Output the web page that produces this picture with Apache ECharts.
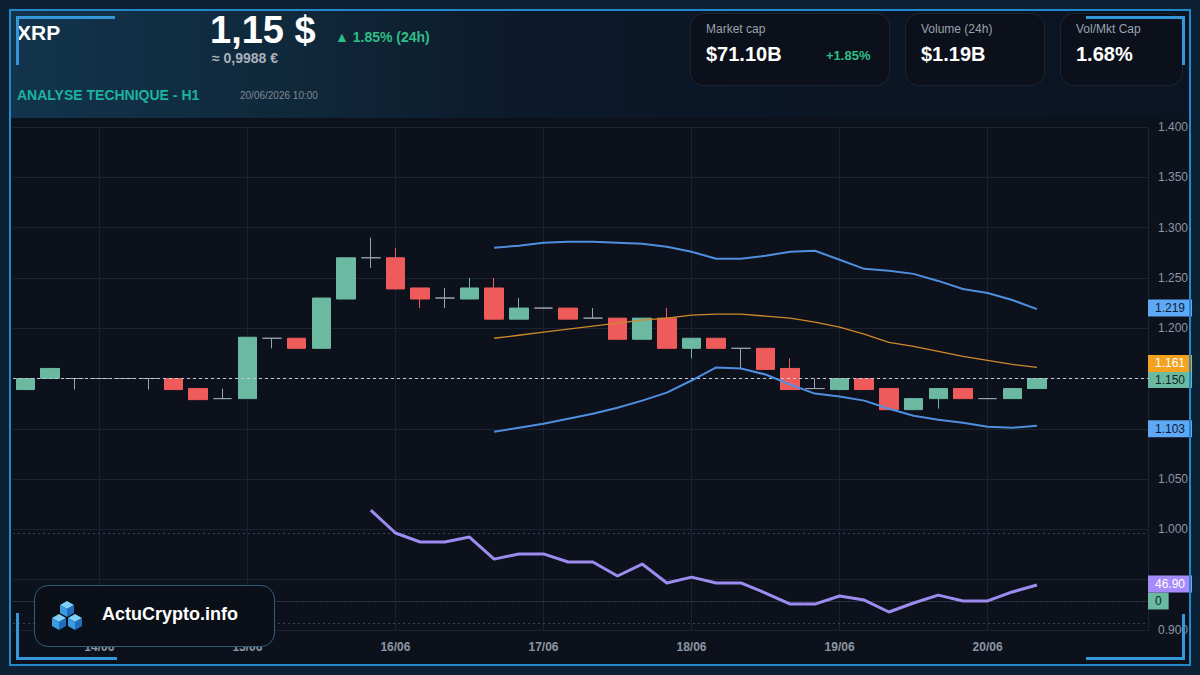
<!DOCTYPE html>
<html>
<head>
<meta charset="utf-8">
<title>XRP - Analyse technique</title>
<script src="https://cdn.jsdelivr.net/npm/echarts@6/dist/echarts.min.js"></script>
<style>
  body { margin: 0; background: #0c2134; }
  #wrap {
    position: relative; width: 1200px; height: 675px; overflow: hidden;
    background: #0c2134; font-family: "Liberation Sans", Arial, sans-serif;
  }
  #inner { position: absolute; left: 11px; top: 11px; width: 1178px; height: 653px; background: #0c111c; }
  #head {
    position: absolute; left: 11px; top: 11px; width: 1178px; height: 107px;
    background: linear-gradient(90deg, #12344c 0%, #0f2739 26%, #0c1a2b 42%, #0b1524 70%, #0b1423 100%);
  }
  #chart { position: absolute; left: 0; top: 0; width: 1200px; height: 675px; }
  #frame { position: absolute; left: 9px; top: 9px; width: 1182px; height: 657px; box-sizing: border-box; border: 2px solid #2387cb; pointer-events: none; }
  .corner { position: absolute; border-color: #3596da; border-style: solid; border-width: 0; pointer-events: none; }
  .txt { position: absolute; white-space: nowrap; }
  .card {
    position: absolute; top: 13px; height: 73px; box-sizing: border-box;
    border: 1px solid rgba(255,255,255,0.08); border-radius: 14px; background: #0b101b;
  }
  .card .lab { position: absolute; left: 15px; top: 8px; font-size: 12px; color: #9aa3ae; }
  .card .val { position: absolute; left: 15px; top: 29px; font-size: 20px; font-weight: bold; color: #fff; }
  #logo {
    position: absolute; left: 34px; top: 585px; width: 241px; height: 62px; box-sizing: border-box;
    border: 1.5px solid #2e5d76; border-radius: 14px; background: #0a0f18;
  }
</style>
</head>
<body>
<div id="wrap">
  <div id="inner"></div>
  <div id="head"></div>
  <div id="chart"></div>

  <div class="txt" style="left:17px;top:21px;font-size:21px;font-weight:bold;color:#fff;">XRP</div>
  <div class="txt" style="left:210px;top:9px;font-size:38px;font-weight:bold;color:#fff;">1,15 $</div>
  <div class="txt" style="left:212px;top:50px;font-size:14px;font-weight:bold;color:#a9b1bb;">≈ 0,9988 €</div>
  <div class="txt" style="left:335px;top:29px;font-size:14px;font-weight:bold;color:#2fbf86;">▲ 1.85% (24h)</div>
  <div class="txt" style="left:17px;top:87px;font-size:14px;font-weight:bold;color:#1cb3a0;">ANALYSE TECHNIQUE - H1</div>
  <div class="txt" style="left:240px;top:90px;font-size:10px;color:#7f8894;">20/06/2026 10:00</div>

  <div class="card" style="left:690px;width:200px;">
    <div class="lab">Market cap</div>
    <div class="val">$71.10B</div>
    <div class="txt" style="left:135px;top:34px;font-size:13px;font-weight:bold;color:#2fbf86;">+1.85%</div>
  </div>
  <div class="card" style="left:905px;width:140px;">
    <div class="lab">Volume (24h)</div>
    <div class="val">$1.19B</div>
  </div>
  <div class="card" style="left:1060px;width:123px;">
    <div class="lab">Vol/Mkt Cap</div>
    <div class="val">1.68%</div>
  </div>

  <div id="logo">
    <svg style="position:absolute;left:14px;top:12px;" width="40" height="36" viewBox="0 0 40 36">
      <defs>
        <g id="cube">
          <polygon points="0,-8 7,-4 0,0 -7,-4" fill="#7fd0fa"/>
          <polygon points="-7,-4 0,0 0,8 -7,4" fill="#3c9be0"/>
          <polygon points="0,0 7,-4 7,4 0,8" fill="#1f6fc0"/>
        </g>
      </defs>
      <use href="#cube" x="18" y="11"/>
      <use href="#cube" x="10" y="24"/>
      <use href="#cube" x="26" y="24"/>
    </svg>
    <div class="txt" style="left:67px;top:18px;font-size:18px;font-weight:bold;color:#fff;">ActuCrypto.info</div>
  </div>

  <div id="frame"></div>
  <div class="corner" style="left:16px;top:16px;width:96px;height:46px;border-top-width:3px;border-left-width:3px;"></div>
  <div class="corner" style="left:1086px;top:16px;width:96px;height:46px;border-top-width:3px;border-right-width:3px;"></div>
  <div class="corner" style="left:16px;top:613px;width:98px;height:44px;border-bottom-width:3px;border-left-width:3px;"></div>
  <div class="corner" style="left:1086px;top:614px;width:96px;height:43px;border-bottom-width:3px;border-right-width:3px;"></div>
</div>

<script>
// 4h candles, 13/06 12:00 -> 20/06 08:00, plus 4 empty slots on the right
const categories = [
  "13/06 12:00", "13/06 16:00", "13/06 20:00",
  "14/06 00:00", "14/06 04:00", "14/06 08:00", "14/06 12:00", "14/06 16:00", "14/06 20:00",
  "15/06 00:00", "15/06 04:00", "15/06 08:00", "15/06 12:00", "15/06 16:00", "15/06 20:00",
  "16/06 00:00", "16/06 04:00", "16/06 08:00", "16/06 12:00", "16/06 16:00", "16/06 20:00",
  "17/06 00:00", "17/06 04:00", "17/06 08:00", "17/06 12:00", "17/06 16:00", "17/06 20:00",
  "18/06 00:00", "18/06 04:00", "18/06 08:00", "18/06 12:00", "18/06 16:00", "18/06 20:00",
  "19/06 00:00", "19/06 04:00", "19/06 08:00", "19/06 12:00", "19/06 16:00", "19/06 20:00",
  "20/06 00:00", "20/06 04:00", "20/06 08:00", "20/06 12:00", "20/06 16:00", "20/06 20:00",
  "21/06 00:00"
];
const dayTicks = ["14/06", "15/06", "16/06", "17/06", "18/06", "19/06", "20/06"];
// price ticks hidden behind the value badges on the right
const hiddenTicks = ["1.150", "1.100", "0.950"];

// [open, close, low, high]
const candles = [
  [1.139, 1.150, 1.139, 1.150], [1.150, 1.160, 1.150, 1.160], [1.150, 1.150, 1.139, 1.150],
  [1.150, 1.150, 1.150, 1.150], [1.150, 1.150, 1.150, 1.150], [1.150, 1.150, 1.139, 1.150],
  [1.150, 1.139, 1.139, 1.150], [1.140, 1.129, 1.129, 1.140], [1.130, 1.130, 1.130, 1.140],
  [1.130, 1.191, 1.130, 1.191], [1.190, 1.190, 1.180, 1.190], [1.190, 1.180, 1.180, 1.190],
  [1.180, 1.230, 1.180, 1.230], [1.229, 1.270, 1.229, 1.270], [1.270, 1.270, 1.260, 1.290],
  [1.270, 1.239, 1.239, 1.280], [1.240, 1.229, 1.220, 1.240], [1.230, 1.230, 1.220, 1.240],
  [1.229, 1.240, 1.229, 1.250], [1.240, 1.209, 1.209, 1.250], [1.209, 1.220, 1.209, 1.230],
  [1.220, 1.220, 1.220, 1.220], [1.220, 1.209, 1.209, 1.220], [1.210, 1.210, 1.210, 1.220],
  [1.210, 1.189, 1.189, 1.210], [1.189, 1.210, 1.189, 1.210], [1.210, 1.180, 1.180, 1.220],
  [1.180, 1.190, 1.170, 1.190], [1.190, 1.180, 1.180, 1.190], [1.180, 1.180, 1.160, 1.180],
  [1.180, 1.159, 1.159, 1.180], [1.160, 1.139, 1.139, 1.170], [1.140, 1.140, 1.140, 1.150],
  [1.139, 1.150, 1.139, 1.150], [1.150, 1.139, 1.139, 1.150], [1.140, 1.119, 1.119, 1.140],
  [1.119, 1.130, 1.119, 1.130], [1.130, 1.140, 1.120, 1.140], [1.140, 1.130, 1.130, 1.140],
  [1.130, 1.130, 1.130, 1.130], [1.130, 1.140, 1.130, 1.140], [1.140, 1.150, 1.140, 1.150]
];
const lastPrice = 1.150;

// bollinger bands, from candle 20 (index 19)
const bbStart = 19;
const bbUpper = [1.280, 1.282, 1.285, 1.286, 1.286, 1.285, 1.284, 1.281, 1.276, 1.269, 1.269, 1.272,
  1.276, 1.277, 1.268, 1.259, 1.257, 1.254, 1.247, 1.239, 1.235, 1.228, 1.219];
const bbMiddle = [1.190, 1.193, 1.196, 1.199, 1.202, 1.205, 1.208, 1.210, 1.213, 1.214, 1.214, 1.212,
  1.210, 1.206, 1.201, 1.194, 1.186, 1.182, 1.177, 1.172, 1.168, 1.164, 1.161];
const bbLower = [1.097, 1.101, 1.105, 1.110, 1.115, 1.121, 1.128, 1.136, 1.148, 1.161, 1.160, 1.154,
  1.144, 1.135, 1.132, 1.128, 1.120, 1.113, 1.109, 1.106, 1.102, 1.101, 1.103];

// RSI, from candle 15 (index 14)
const rsiStart = 14;
const rsi = [80.2, 70.0, 66.0, 66.0, 68.2, 58.4, 60.7, 60.7, 57.1, 57.1, 50.9, 56.2, 47.8, 50.4,
  47.8, 47.8, 43.3, 38.4, 38.4, 42.0, 40.2, 34.9, 38.9, 42.4, 39.8, 39.8, 43.8, 46.9];
const rsiLevels = [70, 30];

function pad(start, arr) {
  return new Array(start).fill(null).concat(arr);
}
function last(arr) {
  return arr[arr.length - 1];
}
function badge(bg, fg, text, dy) {
  return {
    show: true, position: "end", distance: 0, formatter: text,
    backgroundColor: bg, color: fg, fontSize: 12, padding: [3, 7, 2, 7],
    offset: [0, dy || 0],
    fontFamily: "Liberation Sans, Arial, sans-serif"
  };
}
function valueBadge(value, bg, fg, text, dy) {
  return {
    silent: true, symbol: "none", z: 10,
    lineStyle: { width: 0, color: "rgba(0,0,0,0)" },
    label: badge(bg, fg, text, dy),
    data: [{ yAxis: value }]
  };
}

const isDay = (idx, val) => val.endsWith("00:00") && dayTicks.includes(val.slice(0, 5));

const chart = echarts.init(document.getElementById("chart"), null, { renderer: "svg" });
chart.setOption({
  animation: false,
  backgroundColor: "transparent",
  grid: { left: 13, right: 52, top: 127, bottom: 45 },
  xAxis: {
    type: "category",
    data: categories,
    boundaryGap: true,
    axisLine: { lineStyle: { color: "#1c2433" } },
    axisTick: { show: false },
    axisLabel: {
      interval: isDay,
      formatter: v => v.slice(0, 5),
      color: "#8c96a4", fontSize: 12, fontWeight: "bold", margin: 11,
      fontFamily: "Liberation Sans, Arial, sans-serif"
    },
    splitLine: { show: true, interval: isDay, alignWithLabel: true, lineStyle: { color: "#1b2230", width: 1 } }
  },
  yAxis: [
    {
      type: "value", position: "right", min: 0.9, max: 1.4, interval: 0.05, scale: true,
      axisLine: { show: true, lineStyle: { color: "#1c2433" } },
      axisTick: { show: false },
      axisLabel: {
        color: "#8d96a3", fontSize: 12, margin: 10,
        formatter: v => (hiddenTicks.includes(v.toFixed(3)) ? "" : v.toFixed(3)),
        fontFamily: "Liberation Sans, Arial, sans-serif"
      },
      splitLine: { lineStyle: { color: "#1b2230", width: 1 } }
    },
    // RSI scale (overlaid in the lower part)
    { type: "value", min: 26.89, max: 250.44, show: false, splitLine: { show: false } },
    // zero line of the lower indicator
    { type: "value", min: -29, max: 474, show: false, splitLine: { show: false } }
  ],
  series: [
    {
      name: "zero",
      type: "line",
      yAxisIndex: 2,
      data: [],
      z: 1,
      markLine: {
        silent: true, symbol: "none", z: 1,
        lineStyle: { color: "#2a3342", width: 1 },
        label: badge("#6cb9a2", "#0d2a22", "0"),
        data: [{ yAxis: 0 }]
      }
    },
    {
      name: "XRP",
      type: "candlestick",
      data: candles,
      barWidth: 19,
      z: 3,
      itemStyle: {
        color: "#6cb9a2", color0: "#ef5b5b",
        borderColor: "#6cb9a2", borderColor0: "#ef5b5b",
        borderColorDoji: "#9aa4b0", borderWidth: 1
      },
      markLine: {
        silent: true, symbol: "none", z: 4,
        lineStyle: { color: "#c3ccd6", type: [3, 3], width: 1 },
        label: badge("#6cb9a2", "#0d2a22", lastPrice.toFixed(3), 1),
        data: [{ yAxis: lastPrice }]
      }
    },
    {
      name: "BB haute",
      type: "line",
      data: pad(bbStart, bbUpper),
      symbol: "none",
      z: 5,
      lineStyle: { color: "#4f8fe0", width: 2 },
      markLine: valueBadge(last(bbUpper), "#5ea8f5", "#0d1a33", last(bbUpper).toFixed(3))
    },
    {
      name: "BB moyenne",
      type: "line",
      data: pad(bbStart, bbMiddle),
      symbol: "none",
      z: 5,
      lineStyle: { color: "#d08a2a", width: 1.3 },
      markLine: valueBadge(last(bbMiddle), "#f3a21f", "#ffffff", last(bbMiddle).toFixed(3), -5)
    },
    {
      name: "BB basse",
      type: "line",
      data: pad(bbStart, bbLower),
      symbol: "none",
      z: 5,
      lineStyle: { color: "#4f8fe0", width: 2 },
      markLine: valueBadge(last(bbLower), "#5ea8f5", "#0d1a33", last(bbLower).toFixed(3))
    },
    {
      name: "RSI",
      type: "line",
      yAxisIndex: 1,
      data: pad(rsiStart, rsi),
      symbol: "none",
      z: 6,
      lineStyle: { color: "#9d8cf0", width: 3 },
      markLine: {
        silent: true, symbol: "none", z: 1,
        lineStyle: { color: "#3a4456", type: [2, 3], width: 1 },
        label: { show: false },
        data: rsiLevels.map(v => ({ yAxis: v }))
      }
    },
    {
      name: "RSI valeur",
      type: "line",
      yAxisIndex: 1,
      data: [],
      markLine: valueBadge(last(rsi), "#a78bfa", "#ffffff", last(rsi).toFixed(2), -1)
    }
  ]
});
</script>
</body>
</html>
